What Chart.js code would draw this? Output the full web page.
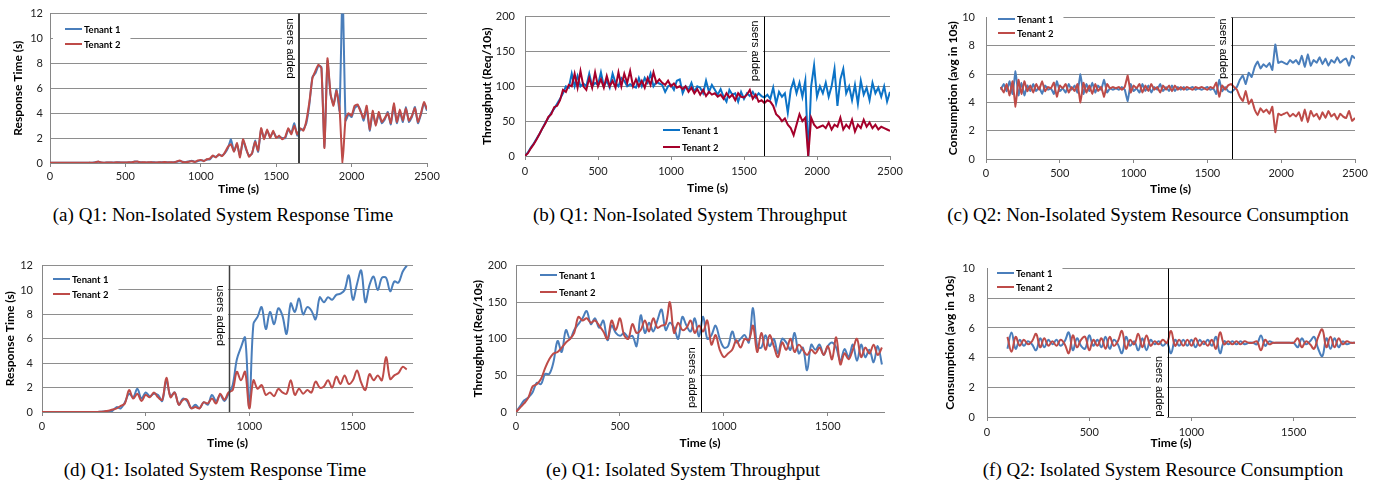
<!DOCTYPE html>
<html>
<head>
<meta charset="utf-8">
<script src="https://cdn.jsdelivr.net/npm/chart.js@4/dist/chart.umd.min.js"></script>
<style>
  body { margin: 0; background: #fff; width: 1378px; height: 484px; position: relative; overflow: hidden; }
  .cap { position: absolute; font-family: "Liberation Serif", serif; font-size: 19px; white-space: nowrap; transform: translateX(-50%); color: #000; }
</style>
</head>
<body>
<div class="cap" style="left:223px;top:204px">(a) Q1: Non-Isolated System Response Time</div>
<div class="cap" style="left:690px;top:204px">(b) Q1: Non-Isolated System Throughput</div>
<div class="cap" style="left:1148px;top:204px">(c) Q2: Non-Isolated System Resource Consumption</div>
<div class="cap" style="left:215px;top:459px">(d) Q1: Isolated System Response Time</div>
<div class="cap" style="left:683px;top:459px">(e) Q1: Isolated System Throughput</div>
<div class="cap" style="left:1163px;top:459px">(f) Q2: Isolated System Resource Consumption</div>
<script>
// time axis (s) for each panel
function range(a, b, s) { const r = []; for (let v = a; v <= b; v += s) r.push(v); return r; }
const timeA = range(0, 2500, 20);
const timeB = range(0, 2500, 20);
const timeC = range(100, 2500, 20);
const timeD = range(0, 1760, 20);
const timeE = range(0, 1760, 20);
const timeF = range(100, 1800, 20);

// x tick labels
const ticksLong = [0, 500, 1000, 1500, 2000, 2500];
const ticksShort = [0, 500, 1000, 1500];

// (a) response time, non isolated
const respA1 = [0.02,0.02,0.03,0.02,0.02,0.03,0.02,0.02,0.03,0.02,
  0.03,0.02,0.03,0.02,0.03,0.06,0.1,0.05,0.03,0.04,
  0.04,0.05,0.05,0.06,0.04,0.05,0.05,0.06,0.12,0.1,
  0.06,0.05,0.05,0.05,0.06,0.05,0.05,0.06,0.07,0.06,
  0.05,0.06,0.1,0.15,0.1,0.08,0.12,0.18,0.1,0.15,
  0.22,0.18,0.28,0.3,0.55,0.5,0.65,0.6,0.8,1.2,
  1.9,0.95,1.5,0.6,1.8,1.1,0.6,0.75,1.8,0.9,
  2.7,2.0,2.6,2.1,2.5,2.1,2.1,2.0,2.0,2.7,
  2.4,3.2,2.2,2.7,2.7,3.2,4.7,6.9,7.2,7.8,
  7.7,1.3,8.2,5.5,4.7,5.9,4.2,14,3.4,3.9,
  3.7,4.4,4.6,4.2,3.4,4.4,2.6,4.0,3.1,3.9,
  3.2,3.5,4.1,3.1,4.6,3.2,4.1,3.3,4.5,3.3,
  3.7,4.5,3.2,3.9,4.8,4.2];
const respA2 = [0.02,0.02,0.02,0.03,0.02,0.02,0.03,0.02,0.02,0.03,
  0.02,0.03,0.02,0.03,0.03,0.05,0.12,0.04,0.03,0.04,
  0.05,0.03,0.06,0.04,0.05,0.04,0.06,0.05,0.1,0.12,
  0.05,0.06,0.04,0.06,0.05,0.04,0.06,0.05,0.08,0.05,
  0.06,0.05,0.12,0.2,0.08,0.06,0.1,0.15,0.08,0.2,
  0.25,0.15,0.3,0.35,0.6,0.45,0.7,0.55,0.85,1.3,
  1.5,0.9,1.6,0.45,1.9,1.2,0.5,0.8,1.7,1.0,
  2.8,1.9,2.7,2.0,2.6,2.0,2.2,1.9,2.1,2.8,
  2.3,3.0,2.3,2.8,2.6,3.4,4.9,6.8,7.4,7.9,
  7.6,1.2,8.4,5.6,4.6,5.8,4.4,0.0,3.6,4.0,
  3.8,4.6,4.7,4.1,3.6,4.6,2.7,4.2,3.0,4.1,
  3.3,3.6,4.0,3.2,4.8,3.3,4.3,3.4,4.4,3.4,
  3.8,4.4,3.3,4.0,4.9,4.3];

// (b) throughput, non isolated
const thrB1 = [0,5,12,18,25,32,40,48,55,62,
  68,75,82,90,100,98,118,100,115,100,
  104,100,118,100,105,102,120,100,108,98,
  118,105,100,112,108,100,103,100,98,112,
  100,112,105,118,100,106,104,102,92,100,
  102,95,108,110,90,100,95,105,92,100,
  98,90,108,92,102,95,88,96,85,78,
  95,88,90,78,92,82,90,86,92,84,
  90,86,84,88,82,98,75,92,85,90,
  62,95,108,90,105,85,108,0,100,130,
  85,100,90,105,85,100,125,72,110,125,
  90,100,80,102,75,108,88,98,80,105,
  90,98,85,100,78,92];
const thrB2 = [0,4,11,17,24,32,40,47,56,60,
  70,72,80,95,92,102,100,118,98,122,
  100,95,112,98,120,100,110,98,115,100,
  108,98,120,100,118,105,122,100,110,100,
  108,98,112,102,120,105,110,105,102,108,
  100,104,98,100,96,100,92,98,90,96,
  88,95,86,92,88,90,85,88,82,90,
  84,88,80,90,85,84,88,95,82,88,
  78,80,76,80,78,72,60,56,50,54,
  45,40,30,45,60,50,55,0,55,45,
  40,42,44,40,48,38,45,42,55,38,
  45,40,52,35,45,40,52,42,48,40,
  45,38,42,40,38,36];

// (c) resource consumption, non isolated
const conC1 = [4.9,5.3,4.8,5.5,4.6,6.2,4.5,5.4,4.5,5.2,
  4.8,5.3,4.8,5.1,4.6,5.2,4.9,5.0,4.6,5.5,
  4.8,5.0,4.7,5.3,4.9,5.2,4.7,6.0,4.6,5.3,
  4.8,5.4,4.7,5.2,4.9,5.6,4.7,5.0,4.9,5.0,
  4.9,5.1,4.9,4.1,5.3,4.8,5.0,4.7,5.3,4.8,
  5.2,4.7,5.1,4.9,5.3,4.8,5.1,4.8,5.2,4.8,
  5.1,4.9,5.1,4.9,5.0,5.1,4.9,5.0,4.9,5.0,
  5.1,4.9,5.0,4.6,5.6,4.8,5.1,4.8,4.7,4.9,
  5.1,5.6,5.9,5.3,6.1,5.8,6.5,6.9,6.4,6.7,
  6.5,6.8,6.3,8.1,6.8,6.9,6.8,6.7,7.0,6.8,
  7.0,6.7,7.3,6.5,7.4,6.6,7.0,6.8,7.2,6.7,
  7.1,6.6,7.0,6.8,7.2,6.8,7.0,7.1,6.6,7.3,
  7.1];
const conC2 = [5.1,4.7,5.3,4.5,5.5,3.7,5.6,4.6,5.5,4.8,
  5.2,4.7,5.3,4.9,5.5,4.8,5.1,5.0,5.4,4.4,
  5.2,5.0,5.3,4.7,5.1,4.8,5.3,4.0,5.4,4.7,
  5.2,4.6,5.3,4.8,5.1,4.4,5.3,5.0,5.1,5.0,
  5.1,4.9,5.1,5.9,4.7,5.2,5.0,5.3,4.7,5.2,
  4.8,5.3,4.9,5.1,4.7,5.2,4.9,5.2,4.8,5.2,
  4.9,5.1,4.9,5.1,5.0,4.9,5.1,5.0,5.1,5.0,
  4.9,5.1,5.0,5.4,4.4,5.2,4.9,5.2,5.3,5.1,
  4.9,4.4,4.1,4.8,3.9,4.2,3.5,3.1,3.6,3.3,
  3.5,3.2,3.7,1.9,3.2,3.1,3.2,3.3,3.0,3.2,
  3.0,3.3,2.7,3.5,2.6,3.4,3.0,3.2,2.8,3.3,
  2.9,3.4,3.0,3.2,2.8,3.2,3.0,2.9,3.4,2.7,
  2.9];

// (d) response time, isolated
const respD1 = [0,0,0,0,0,0,0,0,0,0,0,0,0,0,0.02,
  0.05,0.08,0.1,0.4,0.3,0.8,1.5,1.2,1.9,1.1,
  1.6,1.3,1.5,1.4,0.9,2.6,1.3,1.6,0.6,1.1,
  0.9,0.3,0.6,0.3,0.8,0.6,1.4,0.9,1.4,0.9,
  1.5,2.2,4.3,5.3,6.1,0.4,7.2,7.8,8.6,6.8,
  8.2,7.2,8.5,7.9,6.4,8.9,8.2,9.3,8.0,8.6,
  8.3,7.6,9.4,9.0,9.4,9.2,9.6,9.7,10.0,11.2,
  9.2,10.5,11.6,9.0,10.4,11.1,10.0,11.0,11.0,9.9,
  10.7,10.6,11.5,12.0];
const respD2 = [0,0,0,0,0,0,0,0,0,0,0,0,0,0,0.02,
  0.05,0.1,0.2,0.3,0.5,0.7,1.8,1.1,1.5,0.9,
  1.4,1.2,1.6,1.2,1.0,2.8,1.2,1.6,0.6,1.0,
  1.0,0.3,0.4,0.3,0.8,0.7,1.1,0.7,1.5,1.0,
  1.6,1.8,3.3,2.6,3.3,0.3,2.6,1.9,2.2,1.4,
  1.6,1.3,1.9,1.6,1.5,2.6,1.4,1.9,1.5,1.8,
  1.6,2.5,2.0,2.1,2.6,2.0,2.9,2.3,3.0,2.3,
  2.6,3.4,2.4,1.8,3.1,2.6,3.0,2.6,4.5,2.7,
  3.0,3.2,3.7,3.5];

// (e) throughput, isolated
const thrE1 = [0,8,16,20,27,40,38,52,52,68,
  97,82,112,100,112,120,128,138,120,128,
  115,125,98,118,108,104,108,102,104,90,
  132,108,122,110,125,140,112,122,115,100,
  130,118,110,128,103,130,100,105,118,100,
  88,90,110,95,100,105,95,142,90,88,
  105,90,100,80,100,95,85,108,80,88,
  57,92,85,92,78,90,95,88,70,86,
  75,92,70,92,75,85,68,90,65];
const thrE2 = [0,6,12,20,35,38,45,60,72,80,
  82,88,95,100,108,130,125,128,122,125,
  118,110,100,125,112,128,105,100,120,108,
  112,125,110,128,115,118,120,150,108,122,
  112,115,125,108,118,110,125,92,105,85,
  75,80,85,98,88,100,98,118,82,108,
  85,105,90,75,95,85,100,82,92,85,
  78,85,80,88,78,90,72,102,65,80,
  72,85,100,75,88,80,92,78,88];

// (f) resource consumption, isolated
const conF1 = [4.6,5.7,4.6,5.2,4.8,5.1,4.9,4.5,5.3,4.7,
  5.2,4.9,5.2,4.8,5.1,5.7,4.5,5.3,4.8,4.6,
  5.5,4.8,5.2,4.7,5.4,4.6,5.2,4.9,4.3,5.4,
  4.8,5.1,4.5,5.3,4.5,5.2,4.9,5.1,4.8,5.0,
  4.3,5.2,4.8,5.2,4.8,5.2,4.7,5.2,4.9,5.2,
  4.8,5.4,4.3,5.1,4.9,5.1,4.9,5.1,4.9,5.0,
  5.0,4.9,5.5,4.8,5.1,5.0,5.0,5.0,5.0,5.0,
  5.0,4.7,5.3,4.9,5.1,5.4,4.6,4.1,5.3,4.6,
  5.3,4.7,5.1,4.9,5.0,5.0];
const conF2 = [5.4,4.4,5.4,4.8,5.2,4.9,5.1,5.6,4.7,5.3,
  4.8,5.1,4.8,5.2,4.9,4.3,5.5,4.7,5.2,5.4,
  4.5,5.2,4.8,5.3,4.6,5.4,4.8,5.1,5.8,4.6,
  5.2,4.9,5.6,4.7,5.5,4.8,5.1,4.9,5.2,5.0,
  5.8,4.8,5.2,4.8,5.2,4.8,5.3,4.8,5.1,4.8,
  5.2,4.6,5.7,4.9,5.1,4.9,5.1,4.9,5.1,5.0,
  5.0,5.1,4.5,5.2,4.9,5.0,5.0,5.0,5.0,5.0,
  5.0,5.3,4.7,5.1,4.9,4.6,5.4,5.9,4.7,5.4,
  4.7,5.3,4.9,5.1,5.0,5.0];

const GRID = '#8e8e8e';
const AXIS = '#868686';
const FONT = 'Lato';

// vertical marker, rotated label and the inner legend
const marksPlugin = {
  id: 'marks',
  beforeDatasetsDraw(chart, args, o) {
    const { ctx, scales: { x, y } } = chart;
    const lx = Math.round(x.getPixelForValue(o.usersAt));
    const cy = y.getPixelForValue(o.labelY);
    ctx.save();
    ctx.font = '11px "Liberation Sans"';
    const w = ctx.measureText('users added').width;
    ctx.fillStyle = '#fff';
    ctx.fillRect(lx - 17, cy - w / 2 - 3, 16, w + 6);
    ctx.translate(lx - 9, cy);
    ctx.rotate(Math.PI / 2);
    ctx.fillStyle = '#000';
    ctx.textAlign = 'center';
    ctx.textBaseline = 'middle';
    ctx.fillText('users added', 0, 0);
    ctx.restore();
  },
  afterDatasetsDraw(chart, args, o) {
    const { ctx, chartArea: a, scales: { x } } = chart;
    const lx = Math.round(x.getPixelForValue(o.usersAt)) + (o.lineWidth % 2 ? 0.5 : 0);
    ctx.save();
    ctx.strokeStyle = o.lineColor;
    ctx.lineWidth = o.lineWidth;
    ctx.beginPath();
    ctx.moveTo(lx, a.top);
    ctx.lineTo(lx, a.bottom);
    ctx.stroke();
    ctx.restore();
  },
  afterDraw(chart, args, o) {
    const { ctx, chartArea: a } = chart;
    const lg = o.legend;
    const x0 = lg.x - o.ox;
    const rows = [lg.y1 - o.oy, lg.y2 - o.oy];
    ctx.save();
    ctx.font = 'bold 9.5px ' + FONT;
    const tw = Math.max(...chart.data.datasets.map(d => ctx.measureText(d.label).width));
    ctx.fillStyle = '#fff';
    const bx = Math.max(a.left + 1, x0 - 12);
    ctx.fillRect(bx, rows[0] - 8, x0 + 19 + tw + 10 - bx, rows[1] - rows[0] + 15);
    chart.data.datasets.forEach((d, i) => {
      ctx.strokeStyle = d.borderColor;
      ctx.lineWidth = 2;
      ctx.beginPath();
      ctx.moveTo(x0, rows[i]);
      ctx.lineTo(x0 + 17, rows[i]);
      ctx.stroke();
      ctx.fillStyle = '#000';
      ctx.textBaseline = 'middle';
      ctx.fillText(d.label, x0 + 19, rows[i] + 0.5);
    });
    ctx.restore();
  }
};

function build(c) {
  const cl = c.area.l - c.yW, ct = c.area.t - c.padTop;
  const w = c.area.r - cl + c.padRight, h = c.area.b - ct + c.xH;
  const cv = document.createElement('canvas');
  cv.width = w; cv.height = h;
  cv.style.cssText = `position:absolute;left:${cl}px;top:${ct}px;width:${w}px;height:${h}px`;
  document.body.appendChild(cv);
  new Chart(cv, {
    type: 'line',
    data: {
      datasets: [
        { label: 'Tenant 1', data: c.time.map((t, i) => ({ x: t, y: c.s1[i] })), borderColor: c.colors[0], order: 1 },
        { label: 'Tenant 2', data: c.time.map((t, i) => ({ x: t, y: c.s2[i] })), borderColor: c.colors[1], order: 0 }
      ]
    },
    options: {
      responsive: false,
      animation: false,
      devicePixelRatio: 1,
      layout: { padding: { left: 0, top: c.padTop, right: c.padRight, bottom: 0 } },
      elements: {
        point: { radius: 0 },
        line: { borderWidth: 2, tension: c.tension, fill: false }
      },
      plugins: {
        legend: { display: false },
        tooltip: { enabled: false },
        marks: {
          usersAt: c.usersAt, labelY: c.labelY, lineColor: c.lineColor, lineWidth: c.lineWidth,
          legend: c.legend, ox: cl, oy: ct
        }
      },
      scales: {
        x: {
          type: 'linear', min: 0, max: c.xMax,
          afterFit(s) { s.height = c.xH; },
          afterBuildTicks(s) { s.ticks = c.xTicks.map(v => ({ value: v })); },
          ticks: { padding: c.xPad, maxRotation: 0, autoSkip: false, callback: v => String(v),
                   color: '#222', font: { family: FONT, size: 11 } },
          grid: { drawOnChartArea: false, drawTicks: true, tickLength: 4, color: AXIS },
          border: { display: true, color: AXIS, width: 1 },
          title: { display: true, text: 'Time (s)', color: '#000', padding: { top: 0, bottom: 0 },
                   font: { family: FONT, size: 12, weight: 'bold' } }
        },
        y: {
          type: 'linear', min: 0, max: c.yMax,
          afterFit(s) { s.width = c.yW; },
          ticks: { stepSize: c.yStep, padding: c.yPad, callback: v => String(v),
                   color: '#222', font: { family: FONT, size: 11 } },
          grid: { color: GRID, drawTicks: false, lineWidth: 1 },
          border: { display: true, color: AXIS, width: 1 },
          title: { display: true, text: c.yTitle, color: '#000', padding: { top: c.yTitleX - cl - 7.2, bottom: 0 },
                   font: { family: FONT, size: 12, weight: 'bold' } }
        }
      }
    },
    plugins: [marksPlugin]
  });
}

const std = ['#4A7EBB', '#BE4B48'];

build({ area: { l: 50, r: 427, t: 11, b: 163 }, yW: 50, padTop: 11, padRight: 33, xH: 33, xPad: 3, yPad: 7, yTitleX: 18,
  time: timeA, s1: respA1, s2: respA2, colors: std, xMax: 2500, xTicks: ticksLong, yMax: 12, yStep: 2, yTitle: 'Response Time (s)',
  usersAt: 1650, labelY: 9.2, lineColor: '#404040', lineWidth: 2, tension: 0.15,
  legend: { x: 65, y1: 29, y2: 44 } });

build({ area: { l: 525, r: 890, t: 15, b: 156 }, yW: 60, padTop: 15, padRight: 30, xH: 39, xPad: 5, yPad: 10, yTitleX: 487,
  time: timeB, s1: thrB1, s2: thrB2, colors: ['#0B72C6', '#A5002A'], xMax: 2500, xTicks: ticksLong, yMax: 200, yStep: 50, yTitle: 'Throughput (Req/10s)',
  usersAt: 1640, labelY: 151, lineColor: '#000', lineWidth: 1, tension: 0,
  legend: { x: 663, y1: 130, y2: 147 } });

build({ area: { l: 986, r: 1355, t: 11, b: 159 }, yW: 60, padTop: 11, padRight: 23, xH: 37, xPad: 4, yPad: 11, yTitleX: 953,
  time: timeC, s1: conC1, s2: conC2, colors: std, xMax: 2500, xTicks: ticksLong, yMax: 10, yStep: 2, yTitle: 'Consumption (avg in 10s)',
  usersAt: 1670, labelY: 7.8, lineColor: '#000', lineWidth: 1, tension: 0.1,
  legend: { x: 998, y1: 19, y2: 33 } });

build({ area: { l: 42, r: 413, t: 265, b: 412 }, yW: 42, padTop: 15, padRight: 20, xH: 38, xPad: 4, yPad: 9, yTitleX: 10,
  time: timeD, s1: respD1, s2: respD2, colors: std, xMax: 1790, xTicks: ticksShort, yMax: 12, yStep: 2, yTitle: 'Response Time (s)',
  usersAt: 900, labelY: 7.9, lineColor: '#404040', lineWidth: 1.5, tension: 0.35,
  legend: { x: 53, y1: 279, y2: 294 } });

build({ area: { l: 516, r: 884, t: 265, b: 412 }, yW: 56, padTop: 15, padRight: 20, xH: 38, xPad: 4, yPad: 9, yTitleX: 478,
  time: timeE, s1: thrE1, s2: thrE2, colors: std, xMax: 1770, xTicks: ticksShort, yMax: 200, yStep: 50, yTitle: 'Throughput (Req/10s)',
  usersAt: 890, labelY: 47, lineColor: '#000', lineWidth: 1, tension: 0.35,
  legend: { x: 540, y1: 275, y2: 292 } });

build({ area: { l: 987, r: 1355, t: 265, b: 417 }, yW: 62, padTop: 15, padRight: 20, xH: 33, xPad: 5, yPad: 12, yTitleX: 950,
  time: timeF, s1: conF1, s2: conF2, colors: std, xMax: 1800, xTicks: ticksShort, yMax: 10, yStep: 2, yTitle: 'Consumption (avg in 10s)',
  usersAt: 885, labelY: 2.07, lineColor: '#000', lineWidth: 1, tension: 0.4,
  legend: { x: 997, y1: 273, y2: 287 } });
</script>
</body>
</html>
